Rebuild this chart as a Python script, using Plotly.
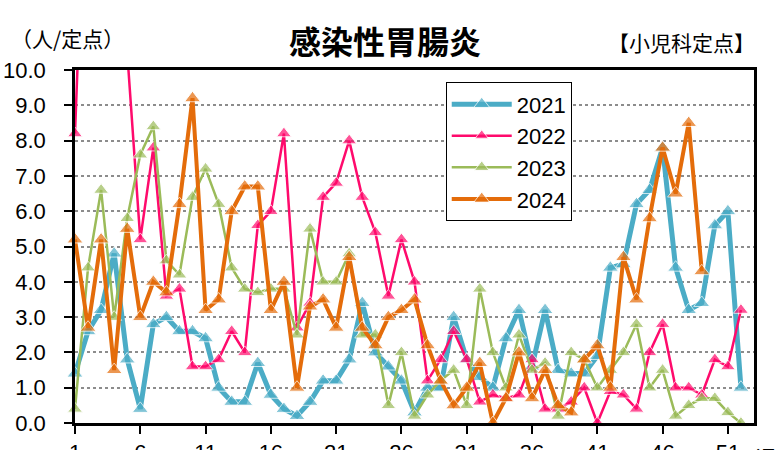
import plotly.graph_objects as go

weeks = list(range(1, 53))
tick_weeks = [1, 6, 11, 16, 21, 26, 31, 36, 41, 46, 51]
tick_labels = [str(w) for w in tick_weeks]

v2021 = [1.4, 2.6, 3.2, 4.8, 1.8, 0.4, 2.8, 3.0, 2.6, 2.6,
         2.4, 1.0, 0.6, 0.6, 1.7, 0.8, 0.4, 0.2, 0.6, 1.2,
         1.2, 1.8, 3.4, 2.0, 1.6, 1.2, 0.3, 1.0, 1.0, 3.0,
         1.8, 1.3, 1.0, 2.4, 3.2, 1.6, 3.2, 1.5, 1.4, 1.4,
         1.9, 4.4, 4.5, 6.2, 6.6, 7.8, 4.4, 3.2, 3.4, 5.6,
         6.0, 1.0]
v2022 = [8.2, 18, 16, 14, 10.5, 5.2, 7.8, 3.6, 3.8, 1.6,
         1.6, 1.8, 2.6, 2.0, 5.6, 6.0, 8.2, 2.7, 3.4, 6.4,
         6.8, 8.0, 6.4, 5.4, 3.6, 5.2, 4.0, 1.2, 1.8, 2.6,
         1.8, 0.6, 0.8, 0.7, 0.8, 1.8, 0.4, 0.4, 0.6, 1.0,
         0.0, 0.9, 0.8, 0.4, 2.0, 2.8, 1.0, 1.0, 0.8, 1.8,
         1.6, 3.2]
v2023 = [0.4, 4.4, 6.6, 3.0, 5.8, 7.6, 8.4, 4.6, 4.2, 6.4,
         7.2, 6.2, 4.4, 3.8, 3.7, 3.8, 3.8, 2.5, 5.5, 4.0,
         4.0, 4.8, 2.5, 2.5, 0.5, 2.0, 0.2, 0.8, 1.2, 1.5,
         0.5, 3.8, 2.0, 1.0, 2.5, 1.5, 1.7, 0.2, 2.0, 1.8,
         1.0, 1.5, 2.0, 2.8, 1.0, 1.5, 0.2, 0.5, 0.7, 0.7,
         0.3, 0.0]
v2024 = [5.2, 2.7, 5.2, 1.5, 5.5, 3.0, 4.0, 3.7, 6.2, 9.2,
         3.2, 3.5, 6.0, 6.7, 6.7, 3.2, 4.0, 1.0, 3.3, 3.5,
         2.7, 4.7, 2.7, 2.2, 3.0, 3.2, 3.5, 2.2, 1.2, 0.5,
         1.0, 1.7, 0.0, 0.7, 2.0, 0.7, 1.5, 0.5, 0.3, 1.8,
         2.2, 1.0, 4.7, 3.5, 5.8, 7.8, 6.5, 8.5, 4.3]

series = [
    ("2021", v2021, "#4BACC6", 5, 14),
    ("2022", v2022, "#FF0A6C", 2.5, 13),
    ("2023", v2023, "#9BBB59", 2.5, 13),
    ("2024", v2024, "#E46C0A", 4, 14),
]

YMAX = 10
FONT = "Liberation Sans, Arial, Noto Sans CJK JP, sans-serif"
JFONT = "Noto Sans CJK JP, sans-serif"

fig = go.Figure()
for name, vals, color, lw, ms in series:
    sizes = [ms if v <= YMAX else 0 for v in vals]
    fig.add_trace(go.Scatter(
        x=weeks[:len(vals)], y=vals, name=name, mode="lines+markers",
        line=dict(color=color, width=lw),
        marker=dict(symbol="triangle-up", size=sizes, color=color),
        cliponaxis=False, legendgroup=name,
    ))

fig.update_layout(
    width=775, height=450, autosize=False,
    margin=dict(l=75, r=21, t=70, b=27),
    paper_bgcolor="white", plot_bgcolor="white",
    font=dict(family=FONT, size=22, color="black"),
    showlegend=True,
    legend=dict(
        x=0.546, y=0.965, xanchor="left", yanchor="top",
        bordercolor="black", borderwidth=1, bgcolor="white",
        font=dict(size=22), tracegroupgap=0, itemwidth=60,
    ),
    xaxis=dict(
        range=[1, 53], tickmode="array", tickvals=tick_weeks, ticktext=tick_labels,
        showline=True, linecolor="black", linewidth=2.5, mirror=True,
        ticks="outside", ticklen=8, tickwidth=2, tickcolor="black",
        showgrid=False, zeroline=False, ticklabelstandoff=0, automargin=False,
    ),
    yaxis=dict(
        range=[0, YMAX], dtick=1, tickformat=".1f",
        showline=True, linecolor="black", linewidth=2.5, mirror=True,
        ticks="outside", ticklen=8, tickwidth=2, tickcolor="black",
        showgrid=True, gridcolor="#8c8c8c", gridwidth=1.5, griddash="dot",
        zeroline=False, ticklabelstandoff=14, automargin=False,
    ),
)

fig.add_annotation(text="<b>感染性胃腸炎</b>", xref="paper", yref="paper",
                   x=0.4566, y=1.085, xanchor="center", yanchor="middle",
                   showarrow=False, font=dict(family=JFONT, size=32, color="black"))
fig.add_annotation(text="（人/定点）", xref="paper", yref="paper",
                   x=-0.097, y=1.09, xanchor="left", yanchor="middle",
                   showarrow=False, font=dict(family=JFONT, size=21, color="black"))
fig.add_annotation(text="【小児科定点】", xref="paper", yref="paper",
                   x=1.005, y=1.08, xanchor="right", yanchor="middle",
                   showarrow=False, font=dict(family=JFONT, size=21, color="black"))
fig.add_annotation(text="週", xref="paper", yref="paper",
                   x=1.0, y=-0.05, xanchor="left", yanchor="top",
                   showarrow=False, font=dict(family=JFONT, size=20, color="black"))

fig.write_html("out.html", config={"displayModeBar": False},
               post_script="document.body.style.margin='0';")
